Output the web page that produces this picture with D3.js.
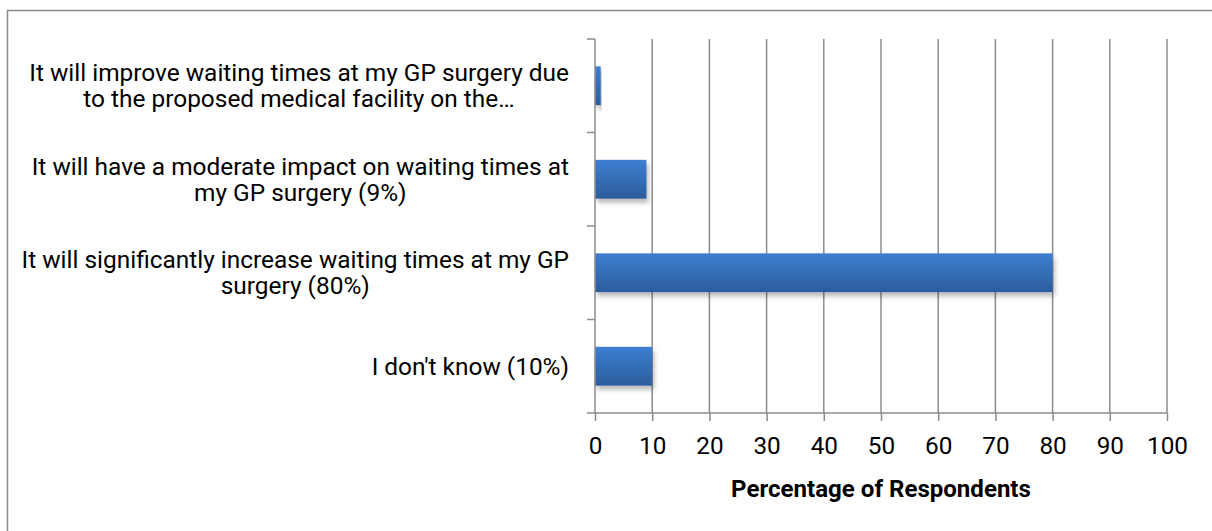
<!DOCTYPE html>
<html>
<head>
<meta charset="utf-8">
<script src="https://cdn.jsdelivr.net/npm/d3@7"></script>
<style>
  body { margin: 0; background: #fff; }
  svg { display: block; font-family: Roboto, "Open Sans", sans-serif; }
</style>
</head>
<body>
<svg id="chart"></svg>
<script>
// categories, top to bottom, already wrapped the way the original shows them
const categories = [
    ["It will improve waiting times at my GP surgery due", "to the proposed medical facility on the…"],
    ["It will have a moderate impact on waiting times at", "my GP surgery (9%)"],
    ["It will significantly increase waiting times at my GP", "surgery (80%)"],
    ["I don't know (10%)"]
];
const values = [1, 9, 80, 10];
const xTicks = [0, 10, 20, 30, 40, 50, 60, 70, 80, 90, 100];
const xTitle = "Percentage of Respondents";

const width = 1212, height = 531;
const margin = {left: 595, right: 45, top: 39, bottom: 118};

const svg = d3.select("#chart")
    .attr("width", width)
    .attr("height", height);

// outer frame (runs off the right and bottom edges)
svg.append("rect")
    .attr("x", 7.5).attr("y", 10.5)
    .attr("width", 1400).attr("height", 700)
    .attr("fill", "none")
    .attr("stroke", "#8a8a8a")
    .attr("stroke-width", 1.5);

// the original font is not installed; size the text so the widest label
// line, the tick numbers and the title keep about their original lengths
function fitSize(str, target, weight) {
    const t = svg.append("text").attr("font-size", 20)
        .attr("font-weight", weight || "normal").text(str);
    const s = 20 * target / t.node().getComputedTextLength();
    t.remove();
    return s;
}
const fontSize = fitSize(categories[0][0], 540);
const tickSize = fitSize("100", 41);
const titleSize = fitSize(xTitle, 300, "bold");

const defs = svg.append("defs");
const grad = defs.append("linearGradient")
    .attr("id", "barGrad")
    .attr("x1", 0).attr("y1", 0).attr("x2", 0).attr("y2", 1);
grad.append("stop").attr("offset", "0%").attr("stop-color", "#3c7fd1");
grad.append("stop").attr("offset", "100%").attr("stop-color", "#2c5c9b");

const shadow = defs.append("filter")
    .attr("id", "shadow")
    .attr("x", "-10%").attr("y", "-20%")
    .attr("width", "130%").attr("height", "160%");
shadow.append("feDropShadow")
    .attr("dx", 2).attr("dy", 4)
    .attr("stdDeviation", 2.5)
    .attr("flood-color", "#000")
    .attr("flood-opacity", 0.28);

const x = d3.scaleLinear()
    .domain([0, 100])
    .range([margin.left, width - margin.right]);

const y = d3.scaleBand()
    .domain(d3.range(categories.length))
    .range([margin.top, height - margin.bottom])
    .paddingInner(0.585)
    .paddingOuter(0.2925);

const yOuter = d3.scaleBand()
    .domain(d3.range(categories.length))
    .range([margin.top, height - margin.bottom]);

const gridColor = "#8c8c8c";
const plotBottom = height - margin.bottom;

// vertical gridlines
svg.append("g")
    .selectAll("line")
    .data(xTicks.slice(1))
    .join("line")
    .attr("x1", d => x(d)).attr("x2", d => x(d))
    .attr("y1", margin.top).attr("y2", plotBottom)
    .attr("stroke", gridColor)
    .attr("stroke-width", 1.5);

// bars
svg.append("g")
    .selectAll("rect")
    .data(values)
    .join("rect")
    .attr("x", x(0))
    .attr("y", (d, i) => y(i))
    .attr("width", d => x(d) - x(0))
    .attr("height", y.bandwidth())
    .attr("fill", "url(#barGrad)")
    .attr("filter", "url(#shadow)");

// x axis
const xAxis = svg.append("g")
    .attr("transform", `translate(0,${plotBottom})`)
    .call(d3.axisBottom(x).tickValues(xTicks).tickSize(8).tickPadding(16).tickSizeOuter(0));
xAxis.select(".domain").remove();
xAxis.append("line")
    .attr("x1", x(0) - 8).attr("x2", x(100))
    .attr("stroke", gridColor).attr("stroke-width", 1.5);
xAxis.selectAll(".tick line").attr("stroke", gridColor).attr("stroke-width", 1.5);
xAxis.selectAll(".tick text")
    .attr("fill", "#000")
    .attr("font-size", tickSize)
    .attr("font-family", "Roboto, 'Open Sans', sans-serif");

// y axis line and category tick marks on band edges
const yAxis = svg.append("g");
yAxis.append("line")
    .attr("x1", x(0)).attr("x2", x(0))
    .attr("y1", margin.top).attr("y2", plotBottom)
    .attr("stroke", gridColor).attr("stroke-width", 1.5);
yAxis.selectAll(".ytick")
    .data(d3.range(categories.length))
    .join("line")
    .attr("class", "ytick")
    .attr("x1", x(0) - 8).attr("x2", x(0))
    .attr("y1", d => yOuter(d)).attr("y2", d => yOuter(d))
    .attr("stroke", gridColor).attr("stroke-width", 1.5);

// category labels: one text per category, a tspan per line; block is
// right-aligned, lines centred inside it; a cut-off line keeps its left start
const labelRight = x(0) - 26;
const lineH = 26;
const labelG = svg.append("g")
    .attr("font-size", fontSize)
    .attr("fill", "#000");

categories.forEach((lines, i) => {
    const cy = yOuter(i) + yOuter.bandwidth() / 2;
    const text = labelG.append("text");
    const spans = text.selectAll("tspan")
        .data(lines)
        .join("tspan")
        .attr("y", (d, j) => cy + (j - (lines.length - 1) / 2) * lineH)
        .attr("dy", "0.35em")
        .text(d => d);
    const blockW = d3.max(spans.nodes(), n => n.getComputedTextLength());
    const left = labelRight - blockW;
    spans
        .attr("text-anchor", d => d.endsWith("…") ? "start" : "middle")
        .attr("x", d => d.endsWith("…") ? left + blockW * 0.1 : left + blockW / 2);
});

// axis title
svg.append("text")
    .attr("x", x(50))
    .attr("y", 497)
    .attr("text-anchor", "middle")
    .attr("font-size", titleSize)
    .attr("font-weight", "bold")
    .text(xTitle);
</script>
</body>
</html>
